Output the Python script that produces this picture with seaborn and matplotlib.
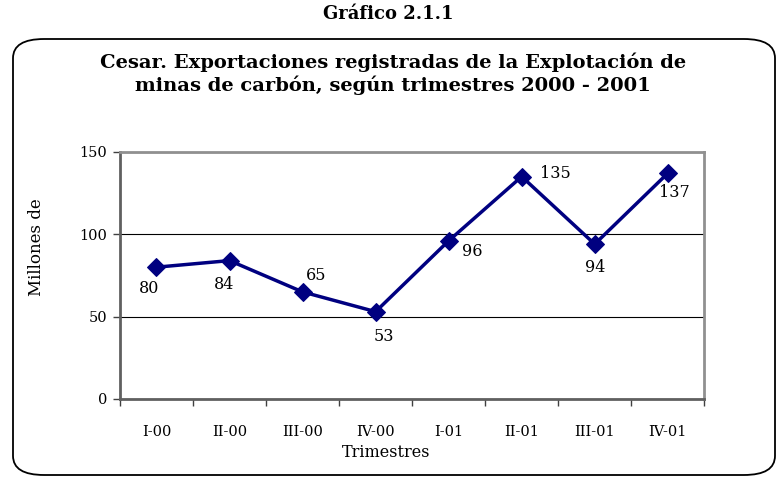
import pandas as pd
import matplotlib.pyplot as plt
import seaborn as sns
from matplotlib.patches import FancyBboxPatch

# datos del grafico
trimestres = ['I-00', 'II-00', 'III-00', 'IV-00', 'I-01', 'II-01', 'III-01', 'IV-01']
exportaciones = [80, 84, 65, 53, 96, 135, 94, 137]
# posicion de cada etiqueta respecto al punto (en puntos)
offsets = [(-5, -15), (-4, -17), (10, 12), (6, -18), (17, -8), (24, 2), (0, -17), (5, -14)]

df = pd.DataFrame({'Trimestres': trimestres, 'Millones': exportaciones})

sns.set_style('white')
plt.rcParams['font.family'] = ['DejaVu Serif']
plt.rcParams['text.color'] = 'black'
plt.rcParams['axes.labelcolor'] = 'black'
plt.rcParams['xtick.color'] = 'black'
plt.rcParams['ytick.color'] = 'black'

fig = plt.figure(figsize=(7.77, 4.78), dpi=100)
ax = fig.add_axes([0.1544, 0.1653, 0.752, 0.517])

# marco redondeado
caja = FancyBboxPatch((13 / 777, 3 / 478), 762 / 777, 436 / 478,
                      boxstyle='round,pad=0,rounding_size=0.04',
                      transform=fig.transFigure, fill=False,
                      edgecolor='black', linewidth=1.3, zorder=0)
fig.patches.append(caja)

sns.lineplot(data=df, x='Trimestres', y='Millones', ax=ax, color='#000080',
             marker='D', markersize=9, linewidth=2.5, markeredgecolor='#000080')

for i, v in enumerate(exportaciones):
    ax.annotate(str(v), (i, v), xytext=offsets[i], textcoords='offset points',
                ha='center', va='center', fontsize=11.5, color='black')

ax.set_ylim(0, 150)
ax.set_xlim(-0.5, len(trimestres) - 0.5)
ax.set_yticks([0, 50, 100, 150])
ax.yaxis.grid(True, color='black', linewidth=0.8)
ax.set_axisbelow(True)

# marcas del eje x entre categorias
ax.set_xticks([i - 0.5 for i in range(len(trimestres) + 1)], minor=True)
ax.tick_params(axis='x', which='major', bottom=True, length=0, pad=19, labelsize=10.5)
ax.tick_params(axis='x', which='minor', bottom=True, length=5, width=1, color='#404040', direction='out')
ax.tick_params(axis='y', left=True, length=5, width=1, color='#404040', direction='out',
               labelsize=10.5, pad=4)

for s in ['top', 'right']:
    ax.spines[s].set_color('#909090')
    ax.spines[s].set_linewidth(2)
for s in ['left', 'bottom']:
    ax.spines[s].set_color('#606060')
    ax.spines[s].set_linewidth(2)

ax.set_xlabel('Trimestres', fontsize=11.5)
ax.xaxis.set_label_coords(0.455, -0.215)
ax.xaxis.label.set_va('center')
ax.set_ylabel('Millones de', fontsize=12)
ax.yaxis.set_label_coords(-0.128, 0.615)

fig.text(0.5, 1 - 14 / 478, 'Gráfico 2.1.1', ha='center', va='center',
         fontsize=13, fontweight='bold')
fig.text(393 / 777, 1 - 74 / 478,
         'Cesar. Exportaciones registradas de la Explotación de\nminas de carbón, según trimestres 2000 - 2001',
         ha='center', va='center', fontsize=14, fontweight='bold', linespacing=1.25)

plt.savefig('out.png', dpi=100)
